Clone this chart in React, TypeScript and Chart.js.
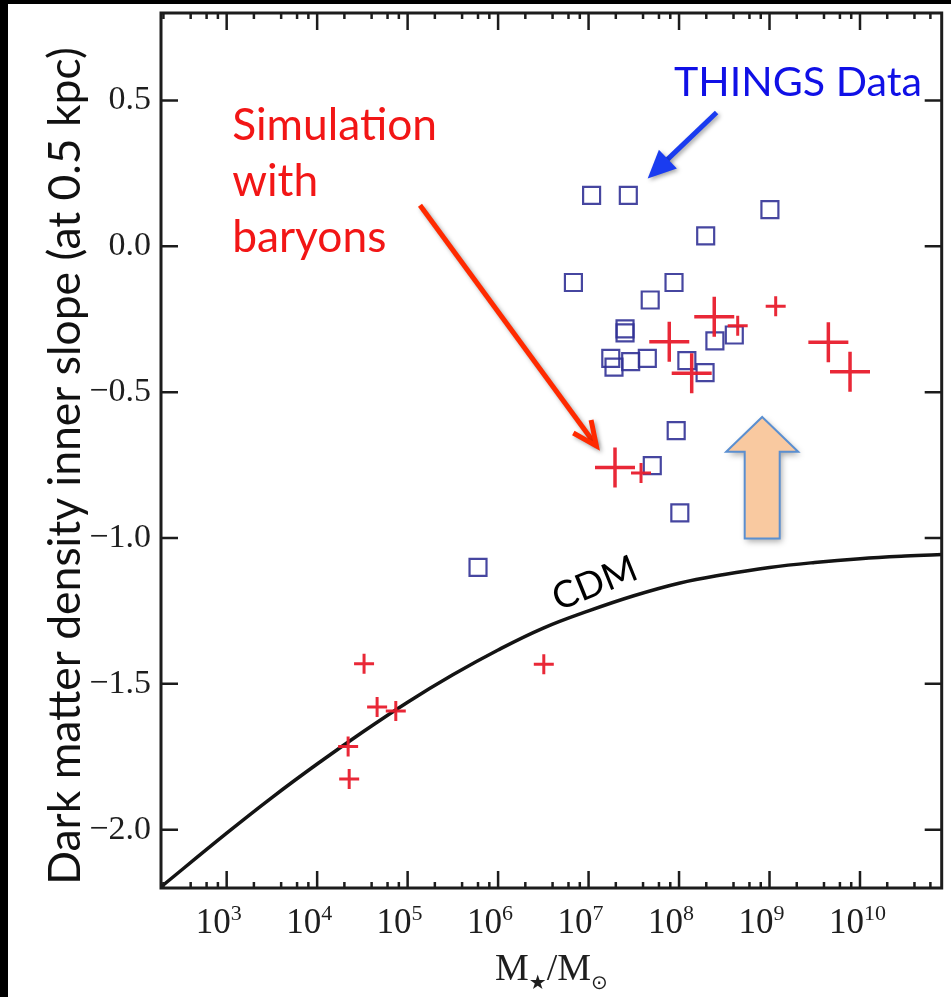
import React, { useEffect, useRef } from 'react';
import { Chart, registerables } from 'chart.js';

Chart.register(...registerables);

// ---- axes ----
const X_MIN = 188;
const X_MAX = 8e10;
const Y_MIN = -2.2;
const Y_MAX = 0.8;
const X_TICKS = [1e3, 1e4, 1e5, 1e6, 1e7, 1e8, 1e9, 1e10];
const X_TICK_BASE = '10';
const X_TICK_EXP = ['3', '4', '5', '6', '7', '8', '9', '10'];
const X_MINOR_MULT = [2, 4, 6, 8];
const Y_TICKS = [-2, -1.5, -1, -0.5, 0, 0.5];
const Y_TICK_LABELS = ['−2.0', '−1.5', '−1.0', '−0.5', '0.0', '0.5'];

// ---- CDM curve ----
const CDM_MASS = [1.8e2, 1e3, 3.16e3, 1e4, 3.16e4, 1e5, 3.16e5, 1e6, 3.16e6, 1e7, 3.16e7, 1e8, 3.16e8, 1e9, 3.16e9, 1e10, 3.16e10, 9e10];
const CDM_SLOPE = [-2.201, -2.012, -1.89, -1.775, -1.666, -1.563, -1.469, -1.384, -1.309, -1.25, -1.198, -1.155, -1.125, -1.101, -1.084, -1.071, -1.062, -1.056];

// ---- THINGS data (blue squares) ----
const THINGS_MASS = [1.08e7, 2.75e7, 1.01e9, 1.97e8, 6.8e6, 8.8e7, 4.8e7, 2.53e7, 2.53e7, 1.76e7, 1.91e7, 2.92e7, 4.46e7, 1.22e8, 2.49e8, 4.08e8, 1.94e8, 9.3e7, 5.06e7, 1.02e8, 6.0e5];
const THINGS_SLOPE = [0.175, 0.175, 0.126, 0.036, -0.124, -0.124, -0.184, -0.283, -0.297, -0.384, -0.414, -0.395, -0.384, -0.392, -0.324, -0.304, -0.433, -0.632, -0.752, -0.914, -1.101];

// ---- Simulations with baryons (red crosses) ----
const SIM_BIG_MASS = [2.45e8, 7.8e7, 1.38e8, 4.47e9, 7.76e9, 1.96e7];
const SIM_BIG_SLOPE = [-0.241, -0.327, -0.435, -0.329, -0.43, -0.758];
const SIM_SMALL_MASS = [4.45e8, 1.17e9, 3.8e7, 3.3e4, 4.6e4, 7.4e4, 2.2e4, 2.26e4, 3.2e6];
const SIM_SMALL_SLOPE = [-0.272, -0.205, -0.777, -1.431, -1.579, -1.593, -1.715, -1.826, -1.433];

// ---- annotations (data coordinates) ----
const THINGS_LABEL = { x: 8.8e7, y: 0.517, text: 'THINGS Data' };
const SIM_LABEL = { x: 1.15e3, y: 0.363, lines: ['Simulation', 'with', 'baryons'] };
const CDM_LABEL = { x: 1.17e7, y: -1.156, text: 'CDM' };
const BLUE_ARROW = { x1: 2.6e8, y1: 0.459, x2: 4.5e7, y2: 0.233 };
const RED_ARROW = { x1: 1.37e5, y1: 0.141, x2: 1.22e7, y2: -0.684 };
const BLOCK_ARROW = { x: 8.3e8, tip: -0.585, headBase: -0.704, bottom: -1.002 };

const Y_TITLE = 'Dark matter density inner slope (at 0.5 kpc)';

const SERIF = '"Liberation Serif", "Times New Roman", "DejaVu Serif", serif';
const SANS = 'Lato, "Open Sans", "Liberation Sans", sans-serif';

function fitFont(ctx: CanvasRenderingContext2D, text: string, family: string, width: number) {
  ctx.font = `100px ${family}`;
  const w = ctx.measureText(text).width;
  return (100 * width) / w;
}

const framePlugin = {
  id: 'frame',
  afterDraw(chart: any) {
    const { ctx, chartArea: a, scales } = chart;
    const x = scales.x;
    const y = scales.y;
    ctx.save();
    ctx.strokeStyle = '#1c1c1c';
    ctx.lineWidth = 2.5;
    ctx.beginPath();
    for (const v of X_TICKS) {
      const px = x.getPixelForValue(v);
      ctx.moveTo(px, a.bottom);
      ctx.lineTo(px, a.bottom - 17);
      ctx.moveTo(px, a.top);
      ctx.lineTo(px, a.top + 17);
    }
    for (let e = 2; e <= 10; e++) {
      for (const m of X_MINOR_MULT) {
        const v = m * Math.pow(10, e);
        if (v < X_MIN || v >= X_MAX) continue;
        const px = x.getPixelForValue(v);
        ctx.moveTo(px, a.bottom);
        ctx.lineTo(px, a.bottom - 6);
        ctx.moveTo(px, a.top);
        ctx.lineTo(px, a.top + 6);
      }
    }
    for (const v of Y_TICKS) {
      const py = y.getPixelForValue(v);
      ctx.moveTo(a.left, py);
      ctx.lineTo(a.left + 17, py);
      ctx.moveTo(a.right, py);
      ctx.lineTo(a.right - 17, py);
    }
    ctx.stroke();
    ctx.lineWidth = 3;
    ctx.strokeRect(a.left, a.top, a.right - a.left, a.bottom - a.top);

    // x tick labels 10^n with real superscripts
    ctx.fillStyle = '#1e1e1e';
    ctx.textBaseline = 'alphabetic';
    X_TICKS.forEach((v, i) => {
      const px = x.getPixelForValue(v);
      ctx.font = `35px ${SERIF}`;
      ctx.textAlign = 'right';
      ctx.fillText(X_TICK_BASE, px + 4, a.bottom + 45);
      ctx.font = `22px ${SERIF}`;
      ctx.textAlign = 'left';
      ctx.fillText(X_TICK_EXP[i], px + 4, a.bottom + 32);
    });

    // x-axis title  M★/M⊙ with subscripts
    const cx = (a.left + a.right) / 2;
    const base = 980;
    const big = `38px ${SERIF}`;
    const small = `20px "DejaVu Sans", ${SERIF}`;
    const parts: [string, string, number][] = [
      ['M', big, 0],
      ['★', small, 9],
      ['/M', big, 0],
      ['⊙', small, 9],
    ];
    let total = 0;
    for (const [t, f] of parts) {
      ctx.font = f;
      total += ctx.measureText(t).width;
    }
    let px = cx - total / 2;
    ctx.fillStyle = '#1e1e1e';
    ctx.textAlign = 'left';
    for (const [t, f, dy] of parts) {
      ctx.font = f;
      ctx.fillText(t, px, base + dy);
      px += ctx.measureText(t).width;
    }

    // y-axis title
    const fs = fitFont(ctx, Y_TITLE, SANS, 838);
    ctx.font = `${fs}px ${SANS}`;
    ctx.fillStyle = '#111';
    ctx.textAlign = 'center';
    ctx.textBaseline = 'middle';
    ctx.translate(66, 466);
    ctx.rotate(-Math.PI / 2);
    ctx.fillText(Y_TITLE, 0, 0);
    ctx.restore();
  },
};

function drawLineArrow(ctx: CanvasRenderingContext2D, x1: number, y1: number, x2: number, y2: number, color: string, open: boolean) {
  const ang = Math.atan2(y2 - y1, x2 - x1);
  const hl = open ? 24 : 28;
  const hw = open ? 11 : 13;
  ctx.save();
  ctx.shadowColor = 'rgba(0,0,0,0.35)';
  ctx.shadowBlur = 4;
  ctx.shadowOffsetX = 2;
  ctx.shadowOffsetY = 2;
  ctx.strokeStyle = color;
  ctx.fillStyle = color;
  ctx.lineWidth = 5;
  ctx.lineCap = 'butt';
  const bx = x2 - Math.cos(ang) * (open ? 2 : hl * 0.8);
  const by = y2 - Math.sin(ang) * (open ? 2 : hl * 0.8);
  ctx.beginPath();
  ctx.moveTo(x1, y1);
  ctx.lineTo(bx, by);
  ctx.stroke();
  const lx = x2 - Math.cos(ang) * hl + Math.sin(ang) * hw;
  const ly = y2 - Math.sin(ang) * hl - Math.cos(ang) * hw;
  const rx = x2 - Math.cos(ang) * hl - Math.sin(ang) * hw;
  const ry = y2 - Math.sin(ang) * hl + Math.cos(ang) * hw;
  ctx.beginPath();
  if (open) {
    ctx.lineJoin = 'miter';
    ctx.moveTo(lx, ly);
    ctx.lineTo(x2, y2);
    ctx.lineTo(rx, ry);
    ctx.stroke();
  } else {
    ctx.moveTo(x2, y2);
    ctx.lineTo(lx, ly);
    ctx.lineTo(rx, ry);
    ctx.closePath();
    ctx.fill();
  }
  ctx.restore();
}

const annotationPlugin = {
  id: 'annotations',
  afterDatasetsDraw(chart: any) {
    const { ctx, scales } = chart;
    const X = (v: number) => scales.x.getPixelForValue(v);
    const Y = (v: number) => scales.y.getPixelForValue(v);
    ctx.save();

    // THINGS label
    let fs = fitFont(ctx, THINGS_LABEL.text, SANS, 248);
    ctx.font = `${fs}px ${SANS}`;
    ctx.fillStyle = '#1010e6';
    ctx.textAlign = 'left';
    ctx.textBaseline = 'alphabetic';
    ctx.fillText(THINGS_LABEL.text, X(THINGS_LABEL.x), Y(THINGS_LABEL.y));

    // Simulation label
    fs = fitFont(ctx, SIM_LABEL.lines[0], SANS, 205);
    ctx.font = `${fs}px ${SANS}`;
    ctx.fillStyle = '#f21616';
    SIM_LABEL.lines.forEach((t, i) => {
      ctx.fillText(t, X(SIM_LABEL.x), Y(SIM_LABEL.y) + i * 56);
    });

    // CDM label
    fs = fitFont(ctx, CDM_LABEL.text, SANS, 88);
    ctx.font = `${fs}px ${SANS}`;
    ctx.fillStyle = '#000';
    ctx.save();
    ctx.translate(X(CDM_LABEL.x), Y(CDM_LABEL.y));
    ctx.rotate((-22 * Math.PI) / 180);
    ctx.textAlign = 'center';
    ctx.textBaseline = 'middle';
    ctx.fillText(CDM_LABEL.text, 0, 0);
    ctx.restore();

    // arrows
    drawLineArrow(ctx, X(BLUE_ARROW.x1), Y(BLUE_ARROW.y1), X(BLUE_ARROW.x2), Y(BLUE_ARROW.y2), '#1a3cf0', false);
    drawLineArrow(ctx, X(RED_ARROW.x1), Y(RED_ARROW.y1), X(RED_ARROW.x2), Y(RED_ARROW.y2), '#ff2a00', true);

    // block arrow
    const bx = X(BLOCK_ARROW.x);
    const tip = Y(BLOCK_ARROW.tip);
    const hb = Y(BLOCK_ARROW.headBase);
    const bot = Y(BLOCK_ARROW.bottom);
    const hw = 36;
    const sw = 17.5;
    ctx.save();
    ctx.shadowColor = 'rgba(0,0,0,0.35)';
    ctx.shadowBlur = 6;
    ctx.shadowOffsetX = 2;
    ctx.shadowOffsetY = 3;
    ctx.beginPath();
    ctx.moveTo(bx, tip);
    ctx.lineTo(bx + hw, hb);
    ctx.lineTo(bx + sw, hb);
    ctx.lineTo(bx + sw, bot);
    ctx.lineTo(bx - sw, bot);
    ctx.lineTo(bx - sw, hb);
    ctx.lineTo(bx - hw, hb);
    ctx.closePath();
    ctx.fillStyle = '#f9c9a0';
    ctx.fill();
    ctx.shadowColor = 'transparent';
    ctx.strokeStyle = '#5b8fd0';
    ctx.lineWidth = 2;
    ctx.stroke();
    ctx.restore();

    ctx.restore();
  },
};

export default function App() {
  const ref = useRef<HTMLCanvasElement | null>(null);

  useEffect(() => {
    if (!ref.current) return;
    const chart = new Chart(ref.current, {
      type: 'scatter',
      data: {
        datasets: [
          {
            label: 'Simulation (large)',
            data: SIM_BIG_MASS.map((m, i) => ({ x: m, y: SIM_BIG_SLOPE[i] })),
            pointStyle: 'cross',
            pointRadius: 20,
            pointHoverRadius: 20,
            pointBorderWidth: 3.5,
            pointBorderColor: 'rgba(232,28,44,0.95)',
            pointBackgroundColor: 'transparent',
          },
          {
            label: 'Simulation (small)',
            data: SIM_SMALL_MASS.map((m, i) => ({ x: m, y: SIM_SMALL_SLOPE[i] })),
            pointStyle: 'cross',
            pointRadius: 10,
            pointHoverRadius: 10,
            pointBorderWidth: 3,
            pointBorderColor: 'rgba(232,28,44,0.95)',
            pointBackgroundColor: 'transparent',
          },
          {
            label: 'THINGS',
            data: THINGS_MASS.map((m, i) => ({ x: m, y: THINGS_SLOPE[i] })),
            pointStyle: 'rect',
            pointRadius: 12,
            pointHoverRadius: 12,
            pointBorderWidth: 2.2,
            pointBorderColor: 'rgba(50,50,150,0.9)',
            pointBackgroundColor: 'transparent',
          },
          {
            label: 'CDM',
            data: CDM_MASS.map((m, i) => ({ x: m, y: CDM_SLOPE[i] })),
            showLine: true,
            pointRadius: 0,
            pointHoverRadius: 0,
            borderColor: '#141414',
            borderWidth: 3.5,
            tension: 0.4,
            fill: false,
          },
        ],
      },
      options: {
        animation: false,
        responsive: false,
        maintainAspectRatio: false,
        events: [],
        layout: { autoPadding: false, padding: { top: 13, right: 9.3, left: 0, bottom: 0 } },
        plugins: { legend: { display: false }, tooltip: { enabled: false } },
        scales: {
          x: {
            type: 'logarithmic',
            min: X_MIN,
            max: X_MAX,
            grid: { display: false },
            border: { display: false },
            afterBuildTicks: (s: any) => {
              s.ticks = X_TICKS.map((v) => ({ value: v }));
            },
            afterFit: (s: any) => {
              s.height = 109;
              s.paddingLeft = 0;
              s.paddingRight = 0;
            },
            ticks: { display: false, autoSkip: false, maxRotation: 0 },
          },
          y: {
            type: 'linear',
            min: Y_MIN,
            max: Y_MAX,
            grid: { display: false },
            border: { display: false },
            afterBuildTicks: (s: any) => {
              s.ticks = Y_TICKS.map((v) => ({ value: v }));
            },
            afterFit: (s: any) => {
              s.width = 161;
              s.paddingTop = 0;
              s.paddingBottom = 0;
            },
            ticks: {
              autoSkip: false,
              padding: 2,
              color: '#1e1e1e',
              font: { family: SERIF, size: 34, lineHeight: 0.5 },
              callback: (_v: any, i: number) => Y_TICK_LABELS[i],
            },
          },
        },
      },
      plugins: [annotationPlugin, framePlugin],
    } as any);
    return () => chart.destroy();
  }, []);

  return (
    <div style={{ position: 'fixed', left: 0, top: 0, width: 951, height: 997, background: '#fff', overflow: 'hidden' }}>
      <div style={{ position: 'absolute', left: 0, top: 0, width: 951, height: 4, background: '#000' }} />
      <div style={{ position: 'absolute', left: 0, top: 0, width: 8, height: 997, background: '#000' }} />
      <canvas ref={ref} width={951} height={997} style={{ position: 'absolute', left: 0, top: 0, width: 951, height: 997 }} />
    </div>
  );
}
